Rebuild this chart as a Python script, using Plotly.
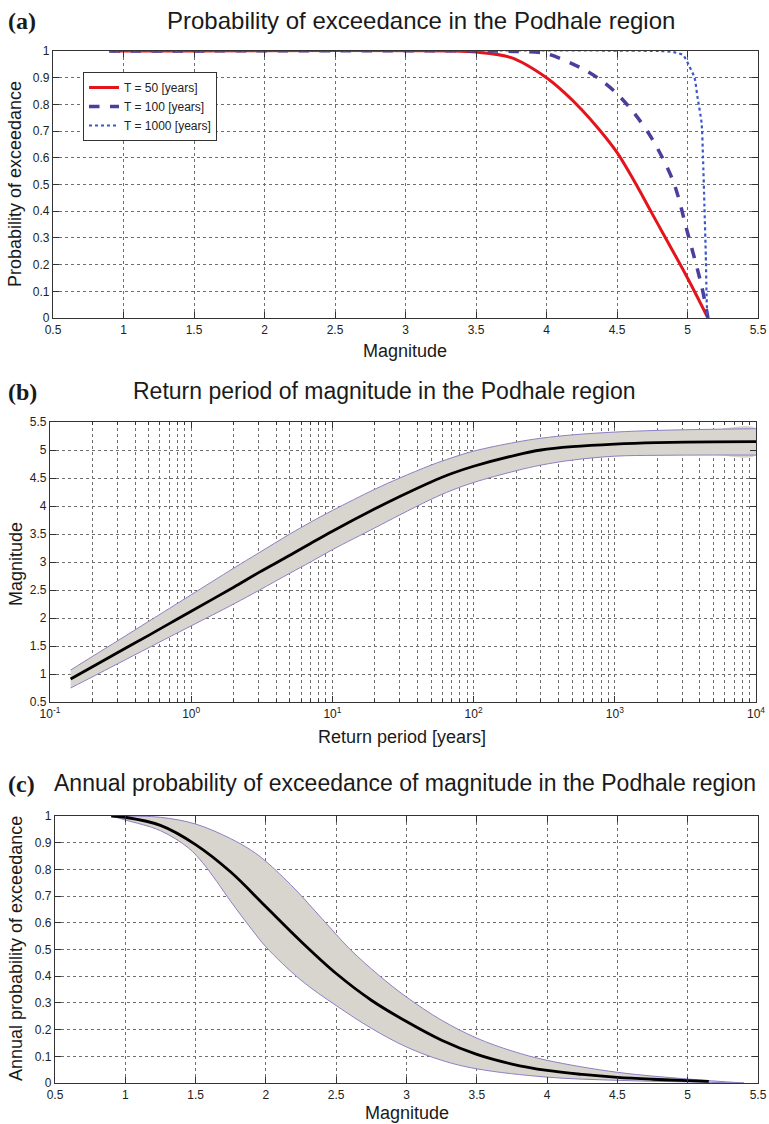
import plotly.graph_objects as go

W, H = 769, 1124

# ---------------- data: panel (a) ----------------
mag_t50 = [0.9, 3.3, 3.5, 3.75, 4.0, 4.125, 4.25, 4.375, 4.5, 4.625, 4.75, 5.0, 5.145]
p_t50 = [1.0, 1.0, 0.996, 0.975, 0.9, 0.845, 0.78, 0.705, 0.62, 0.51, 0.39, 0.15, 0.0]

mag_t100 = [0.9, 3.6, 3.8, 4.0, 4.25, 4.375, 4.5, 4.625, 4.75, 4.9, 5.0, 5.1, 5.145]
p_t100 = [1.0, 1.0, 0.998, 0.99, 0.935, 0.895, 0.84, 0.765, 0.67, 0.51, 0.32, 0.12, 0.0]

mag_t1000 = [0.9, 4.8, 4.9, 4.97, 5.01, 5.05, 5.07, 5.1, 5.11, 5.12, 5.13, 5.135, 5.14]
p_t1000 = [1.0, 1.0, 0.996, 0.984, 0.946, 0.9, 0.83, 0.73, 0.6, 0.42, 0.23, 0.09, 0.0]

# ---------------- data: panel (b) ----------------
return_period = [0.14, 0.2, 0.3, 0.5, 0.7, 1, 2, 3, 5, 7, 10, 20, 30, 50, 70, 100,
                 200, 300, 500, 1000, 2000, 5000, 10000]
mag_b_mid = [0.91, 1.13, 1.38, 1.69, 1.90, 2.12, 2.55, 2.81, 3.12, 3.33, 3.55, 3.95, 4.17,
             4.43, 4.58, 4.71, 4.91, 5.00, 5.06, 5.105, 5.13, 5.145, 5.15]
mag_b_up = [1.07, 1.315, 1.59, 1.94, 2.17, 2.415, 2.89, 3.16, 3.50, 3.71, 3.92, 4.30, 4.50,
            4.73, 4.86, 4.98, 5.14, 5.21, 5.27, 5.32, 5.35, 5.37, 5.38]
mag_b_low = [0.75, 0.95, 1.18, 1.47, 1.66, 1.86, 2.25, 2.49, 2.80, 3.00, 3.22, 3.61, 3.84,
             4.12, 4.28, 4.42, 4.63, 4.73, 4.82, 4.89, 4.905, 4.91, 4.91]

# ---------------- data: panel (c) ----------------
mag_c_mid = [0.9, 1.0, 1.25, 1.5, 1.75, 2.0, 2.25, 2.5, 2.75, 3.0, 3.25, 3.5, 3.75, 4.0,
             4.25, 4.5, 4.75, 5.0, 5.15]
p_c_mid = [1.0, 0.995, 0.965, 0.893, 0.79, 0.66, 0.53, 0.41, 0.31, 0.23, 0.16, 0.107, 0.071,
           0.047, 0.032, 0.021, 0.014, 0.009, 0.006]
mag_c_up = [0.9, 1.0, 1.25, 1.5, 1.75, 1.9, 2.0, 2.2, 2.4, 2.6, 2.8, 3.0, 3.25, 3.5, 3.75,
            4.0, 4.5, 5.0, 5.4]
p_c_up = [1.0, 1.0, 0.995, 0.97, 0.915, 0.87, 0.83, 0.73, 0.615, 0.5, 0.405, 0.322, 0.235,
          0.168, 0.12, 0.085, 0.04, 0.015, 0.0]
mag_c_low = [0.9, 1.0, 1.25, 1.45, 1.55, 1.65, 1.75, 1.9, 2.0, 2.25, 2.5, 2.75, 3.0, 3.25,
             3.5, 4.0, 4.5, 5.0, 5.4]
p_c_low = [1.0, 0.985, 0.945, 0.88, 0.825, 0.755, 0.68, 0.575, 0.51, 0.385, 0.29, 0.205,
           0.135, 0.085, 0.053, 0.022, 0.01, 0.004, 0.0]

legend_names = ["T = 50 [years]", "T = 100 [years]", "T = 1000 [years]"]
log_tick_vals = [0.1, 1, 10, 100, 1000, 10000]
log_tick_text = ["10<sup>-1</sup>", "10<sup>0</sup>", "10<sup>1</sup>",
                 "10<sup>2</sup>", "10<sup>3</sup>", "10<sup>4</sup>"]

# ---------------- styles ----------------
SANS = "Liberation Sans, Arial, sans-serif"
SERIF = "Liberation Serif, Times New Roman, serif"
BAND_FILL = "#d8d5ce"
BAND_EDGE = "#8e80c4"
GRID = "#6e6e6e"
AXC = "#333333"


def dom_x(x0, x1):
    return [x0 / W, x1 / W]


def dom_y(y_top, y_bot):
    return [1 - y_bot / H, 1 - y_top / H]


def axis_style(**kw):
    d = dict(showline=True, linecolor=AXC, linewidth=1.3, mirror="ticks",
             ticks="inside", ticklen=6, tickcolor=AXC, tickwidth=1,
             showgrid=True, gridcolor=GRID, griddash="dot", gridwidth=1,
             zeroline=False, automargin=False,
             tickfont=dict(family=SANS, size=12, color="#222"))
    d.update(kw)
    return d


fig = go.Figure()

# panel (a)
fig.add_trace(go.Scatter(x=mag_t50, y=p_t50, mode="lines", name=legend_names[0],
                         line=dict(color="#e3141c", width=3, shape="spline", smoothing=0.9),
                         xaxis="x", yaxis="y"))
fig.add_trace(go.Scatter(x=mag_t100, y=p_t100, mode="lines", name=legend_names[1],
                         line=dict(color="#4a3f9c", width=3.5, dash="dash", shape="spline",
                                   smoothing=0.9),
                         xaxis="x", yaxis="y"))
fig.add_trace(go.Scatter(x=mag_t1000, y=p_t1000, mode="lines", name=legend_names[2],
                         line=dict(color="#3a58c8", width=2.2, dash="dot", shape="spline",
                                   smoothing=0.6),
                         xaxis="x", yaxis="y"))

# panel (b)
fig.add_trace(go.Scatter(x=return_period + return_period[::-1],
                         y=mag_b_up + mag_b_low[::-1], fill="toself",
                         fillcolor=BAND_FILL, line=dict(width=0, shape="spline"), mode="lines",
                         showlegend=False, hoverinfo="skip", xaxis="x2", yaxis="y2"))
for ys in (mag_b_up, mag_b_low):
    fig.add_trace(go.Scatter(x=return_period, y=ys, mode="lines",
                             line=dict(color=BAND_EDGE, width=1, shape="spline"),
                             showlegend=False, xaxis="x2", yaxis="y2"))
fig.add_trace(go.Scatter(x=return_period, y=mag_b_mid, mode="lines",
                         line=dict(color="black", width=2.8, shape="spline"),
                         showlegend=False, xaxis="x2", yaxis="y2"))

# panel (c)
fig.add_trace(go.Scatter(x=mag_c_up + mag_c_low[::-1], y=p_c_up + p_c_low[::-1],
                         fill="toself", fillcolor=BAND_FILL, line=dict(width=0, shape="spline"),
                         mode="lines", showlegend=False, hoverinfo="skip",
                         xaxis="x3", yaxis="y3"))
fig.add_trace(go.Scatter(x=mag_c_up, y=p_c_up, mode="lines",
                         line=dict(color=BAND_EDGE, width=1, shape="spline"),
                         showlegend=False, xaxis="x3", yaxis="y3"))
fig.add_trace(go.Scatter(x=mag_c_low, y=p_c_low, mode="lines",
                         line=dict(color=BAND_EDGE, width=1, shape="spline"),
                         showlegend=False, xaxis="x3", yaxis="y3"))
fig.add_trace(go.Scatter(x=mag_c_mid, y=p_c_mid, mode="lines",
                         line=dict(color="black", width=2.8, shape="spline"),
                         showlegend=False, xaxis="x3", yaxis="y3"))


def ann(text, x, y, size, family=SANS, angle=0, xanchor="center"):
    return dict(text=text, x=x / W, y=1 - y / H, xref="paper", yref="paper",
                showarrow=False, xanchor=xanchor, yanchor="middle", textangle=angle,
                font=dict(family=family, size=size, color="#1a1a1a"))


annotations = [
    ann("<b>(a)</b>", 6, 21, 24, SERIF, xanchor="left"),
    ann("Probability of exceedance in the Podhale region", 421, 20, 24),
    ann("Probability of exceedance", 15, 184, 18, angle=-90),
    ann("Magnitude", 405, 351, 18),
    ann("<b>(b)</b>", 6, 392, 24, SERIF, xanchor="left"),
    ann("Return period of magnitude in the Podhale region", 384, 391, 23),
    ann("Magnitude", 16, 564, 18, angle=-90),
    ann("Return period [years]", 402, 737, 18),
    ann("<b>(c)</b>", 6, 784, 24, SERIF, xanchor="left"),
    ann("Annual probability of exceedance of magnitude in the Podhale region", 405, 783, 23),
    ann("Annual probability of exceedance", 16, 949, 18, angle=-90),
    ann("Magnitude", 407, 1113, 18),
]

fig.update_layout(
    width=W, height=H,
    margin=dict(l=0, r=0, t=0, b=0),
    paper_bgcolor="white", plot_bgcolor="white",
    font=dict(family=SANS, color="#222"),
    xaxis=axis_style(domain=dom_x(53, 758), range=[0.5, 5.5], dtick=0.5, tick0=0.5,
                     anchor="y"),
    yaxis=axis_style(domain=dom_y(51, 318), range=[0, 1], dtick=0.1, tick0=0,
                     anchor="x"),
    xaxis2=axis_style(domain=dom_x(50, 756), type="log", range=[-1, 4],
                      tickmode="array", tickvals=log_tick_vals, ticktext=log_tick_text,
                      anchor="y2",
                      minor=dict(dtick="D1", ticks="inside", ticklen=3, tickcolor=AXC,
                                 showgrid=True, gridcolor=GRID, griddash="dot",
                                 gridwidth=1)),
    yaxis2=axis_style(domain=dom_y(422, 702), range=[0.5, 5.5], dtick=0.5, tick0=0.5,
                      anchor="x2"),
    xaxis3=axis_style(domain=dom_x(55, 758), range=[0.5, 5.5], dtick=0.5, tick0=0.5,
                      anchor="y3"),
    yaxis3=axis_style(domain=dom_y(816, 1083), range=[0, 1], dtick=0.1, tick0=0,
                      anchor="x3"),
    legend=dict(x=83 / W, y=1 - 72 / H, xanchor="left", yanchor="top",
                bgcolor="white", bordercolor=AXC, borderwidth=1,
                font=dict(family=SANS, size=12, color="#222"), tracegroupgap=0),
    annotations=annotations,
)

fig.write_html("out.html",
               config={"displayModeBar": False},
               post_script="document.body.style.margin='0';"
                           "document.body.style.overflow='hidden';")
